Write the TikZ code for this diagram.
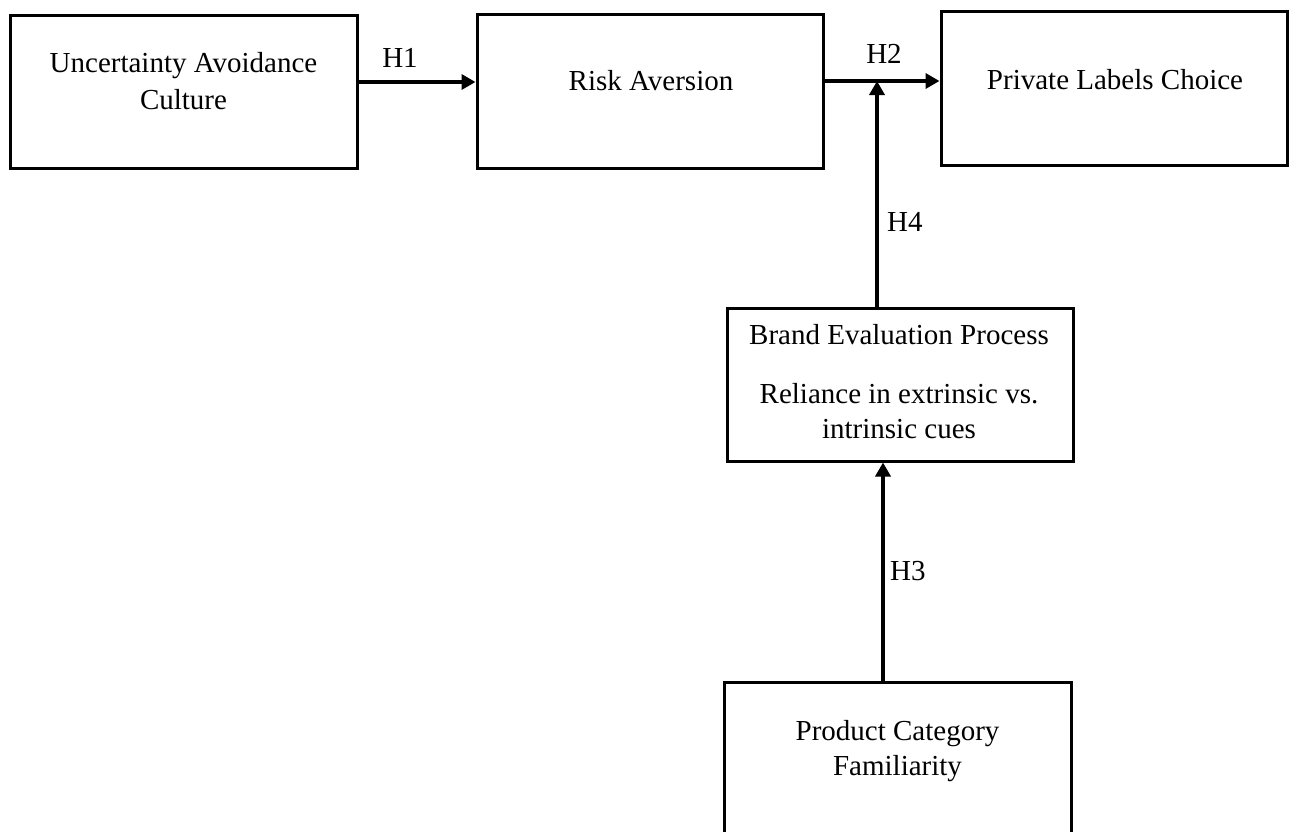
\documentclass[tikz,border=0pt]{standalone}
\usepackage{fontspec}
\setmainfont{Liberation Serif}
\usetikzlibrary{arrows.meta}
\tikzset{
  box/.style={draw=black, line width=3pt, rectangle, inner sep=0pt, fill=none},
  txt/.style={inner sep=0pt, anchor=base, font=\fontsize{29}{37}\selectfont},
  arr/.style={draw=black, line width=4pt, -{Triangle[length=14pt,width=15pt]}}
}
\begin{document}
\begin{tikzpicture}[x=1pt,y=-1pt]
\clip (0,0) rectangle (1292,831);
\fill[white] (0,0) rectangle (1292,831);
% boxes
\node[box, minimum width=347pt, minimum height=153pt] (uac) at (183.5,91.5) {};
\node[box, minimum width=346pt, minimum height=154pt] (ra) at (650,91) {};
\node[box, minimum width=346pt, minimum height=154pt] (plc) at (1114,88) {};
\node[box, minimum width=346pt, minimum height=153pt] (bep) at (900,384.5) {};
\node[box, minimum width=347pt, minimum height=160pt] (pcf) at (897.5,762) {};
% texts
\node[txt] (uac1) at (183.5,72) {Uncertainty Avoidance};
\node[txt] (uac2) at (183.5,109) {Culture};
\node[txt] (ra1) at (651,90) {Risk Aversion};
\node[txt] (plc1) at (1115,89) {Private Labels Choice};
\node[txt] (bep1) at (899,344) {Brand Evaluation Process};
\node[txt] (bep2) at (899,403) {Reliance in extrinsic vs.};
\node[txt] (bep3) at (899,438) {intrinsic cues};
\node[txt] (pcf1) at (897.5,740) {Product Category};
\node[txt] (pcf2) at (897.5,775) {Familiarity};
% connectors
\coordinate (h1s) at ([yshift=9.5pt]uac.east);
\draw[arr] (h1s) -- (h1s -| ra.west);
\coordinate (h2s) at ([yshift=10pt]ra.east);
\draw[arr] (h2s) -- (h2s -| plc.west);
\coordinate (h4s) at ([xshift=-23pt]bep.north);
\draw[arr] (h4s) -- (h4s |- h2s);
\coordinate (h3s) at ([xshift=-14.5pt]pcf.north);
\draw[arr] (h3s) -- (h3s |- bep.south);
% labels
\node[txt] (h1) at (400,67) {H1};
\node[txt] (h2) at (884,63) {H2};
\node[txt, anchor=base west] (h4) at (887,231) {H4};
\node[txt, anchor=base west] (h3) at (890,580) {H3};
\end{tikzpicture}
\end{document}
